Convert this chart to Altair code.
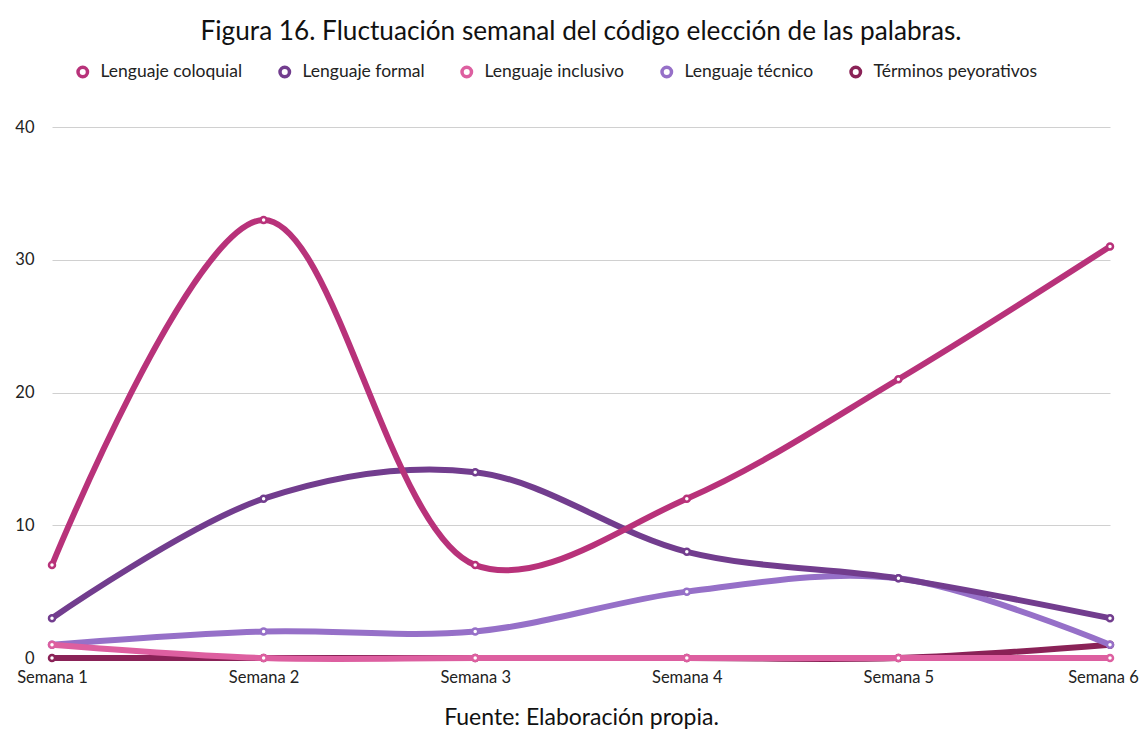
import altair as alt
import pandas as pd

semanas = ["Semana 1", "Semana 2", "Semana 3", "Semana 4", "Semana 5", "Semana 6"]
series = ["Lenguaje coloquial", "Lenguaje formal", "Lenguaje inclusivo", "Lenguaje técnico", "Términos peyorativos"]
colores = ["#b8327a", "#723d8e", "#dd5fa0", "#9670c8", "#8a2257"]
coloquial = [7, 33, 7, 12, 21, 31]
formal = [3, 12, 14, 8, 6, 3]
inclusivo = [1, 0, 0, 0, 0, 0]
tecnico = [1, 2, 2, 5, 6, 1]
peyorativos = [0, 0, 0, 0, 0, 1]
# drawing order (bottom to top)
orden = {"Términos peyorativos": 0, "Lenguaje técnico": 1, "Lenguaje inclusivo": 2, "Lenguaje formal": 3, "Lenguaje coloquial": 4}

valores = [coloquial, formal, inclusivo, tecnico, peyorativos]
rows = []
for s, vals in zip(series, valores):
    for sem, v in zip(semanas, vals):
        rows.append({"semana": sem, "serie": s, "valor": v})
df = pd.DataFrame(rows)

FONT = "Lato"
color = alt.Color(
    "serie:N",
    scale=alt.Scale(domain=series, range=colores),
    legend=alt.Legend(
        title=None, orient="none", direction="horizontal", legendX=22, legendY=-64,
        symbolType="circle", symbolFillColor="white", symbolStrokeWidth=3.5, symbolSize=90,
        labelFont=FONT, labelFontSize=17.5, labelColor="#222", columnPadding=30, labelLimit=300,
        labelOffset=9,
    ),
)
x = alt.X("semana:N", sort=semanas, scale=alt.Scale(padding=0),
          axis=alt.Axis(title="Fuente: Elaboración propia.", labelAngle=0, domain=False, ticks=False,
                        labelFont=FONT, labelFontSize=16.5, labelColor="#222", labelPadding=11,
                        labelOffset={"condition": {"test": "datum.value == 'Semana 6'", "value": -7}, "value": 0},
                        titleFont=FONT, titleFontSize=23, titleFontWeight="normal", titleColor="#111",
                        titlePadding=21, grid=False))
y = alt.Y("valor:Q", scale=alt.Scale(domain=[0, 40]),
          axis=alt.Axis(title=None, values=[0, 10, 20, 30, 40], domain=False, ticks=False,
                        labelFont=FONT, labelFontSize=16.5, labelColor="#222", labelPadding=18,
                        gridColor="#d0d0d0", gridWidth=1))

stroke = alt.Stroke("serie:N", scale=alt.Scale(domain=series, range=colores), legend=None)
layers = []
for s in sorted(series, key=lambda k: orden[k]):
    d = df[df.serie == s]
    layers.append(
        alt.Chart(d).mark_line(strokeWidth=6, interpolate="catmull-rom").encode(x=x, y=y, color=color)
    )
    layers.append(
        alt.Chart(d).mark_point(filled=True, fill="white", size=36, strokeWidth=2.5, opacity=1).encode(
            x=x, y=y, stroke=stroke
        )
    )

chart = alt.layer(*layers).properties(
    width=1058, height=531,
    title=alt.Title("Figura 16. Fluctuación semanal del código elección de las palabras.",
                    font=FONT, fontSize=26.2, fontWeight="normal", color="#111", offset=18, anchor="middle"),
    autosize=alt.AutoSizeParams(type="none"),
    padding={"left": 44, "top": 119, "right": 30, "bottom": 72},
).configure_view(stroke=None)

chart.save("out.html", embed_options={"renderer": "svg", "actions": False})
